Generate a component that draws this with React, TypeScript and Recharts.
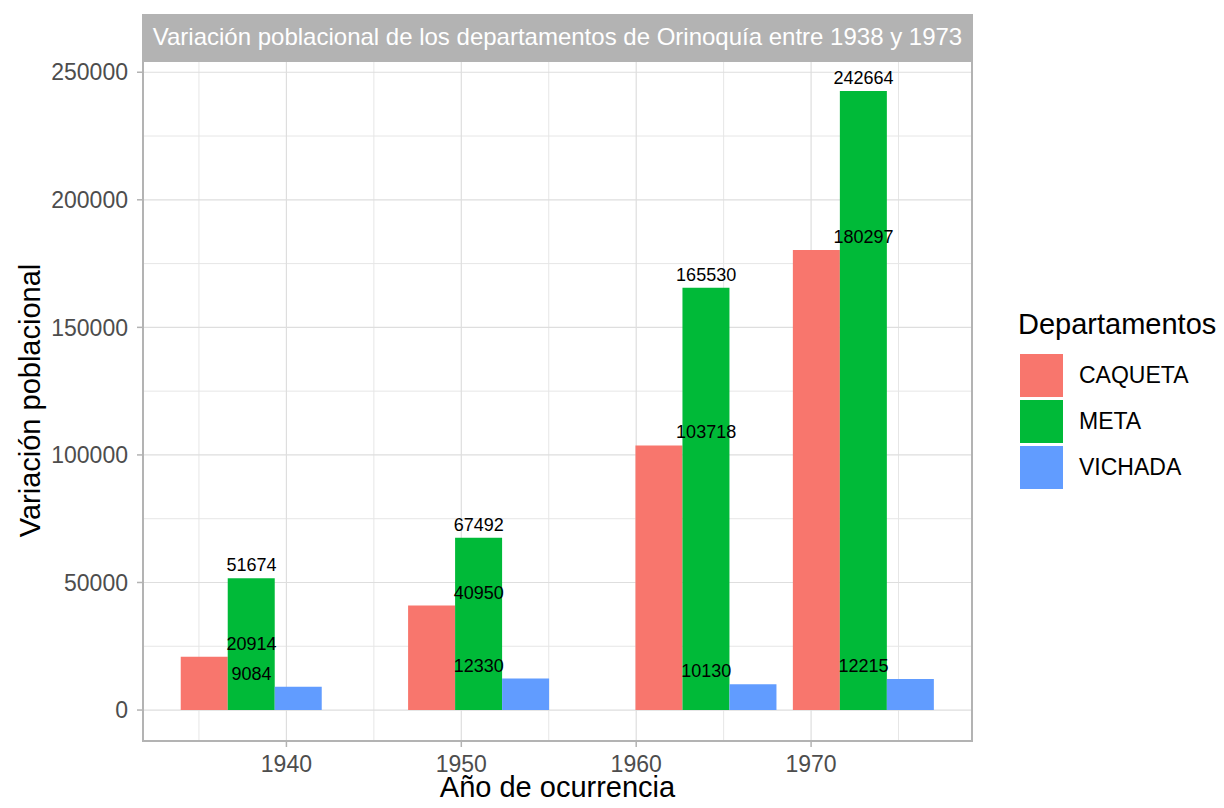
import React from 'react';
import { ComposedChart, Bar, Scatter, XAxis, YAxis, CartesianGrid } from 'recharts';

// valores
const years = [1938, 1951, 1964, 1973];
const caqueta = [20914, 40950, 103718, 180297];
const meta = [51674, 67492, 165530, 242664];
const vichada = [9084, 12330, 10130, 12215];

const xTicks = [1940, 1950, 1960, 1970];
const xMinor = [1935, 1945, 1955, 1965, 1975];
const yTicks = [0, 50000, 100000, 150000, 200000, 250000];
const yMinor = [25000, 75000, 125000, 175000, 225000];

const xDomain = [1931.8, 1979.2];
const yDomain = [-12133, 254797];

const series = [
  { key: 'CAQUETA', color: '#F8766D' },
  { key: 'META', color: '#00BA38' },
  { key: 'VICHADA', color: '#619CFF' },
];

const data = years.map((year, i) => ({
  year,
  CAQUETA: caqueta[i],
  META: meta[i],
  VICHADA: vichada[i],
}));

const FONT = '"Liberation Sans", Arial, Helvetica, sans-serif';
const W = 1224;
const H = 808;
const xAxisHeight = 67;
const yAxisWidth = 143;
const margin = { top: 60, right: 252, bottom: 0, left: 0 };
const panelLeft = margin.left + yAxisWidth;
const panelWidth = W - margin.right - panelLeft;
const panelHeight = H - margin.top - margin.bottom - xAxisHeight;

const labelShape = (key: string) => (p: any) => {
  if (p.cx == null || p.cy == null) return <g />;
  return (
    <text x={p.cx} y={p.cy - 7} textAnchor="middle" fontSize={18} fontFamily={FONT} fill="#000">
      {p.payload[key]}
    </text>
  );
};

const YTitle = (props: any) => {
  const vb = props.viewBox;
  const cx = 30;
  const cy = vb.y + vb.height / 2;
  return (
    <text
      x={cx}
      y={cy}
      transform={`rotate(-90, ${cx}, ${cy})`}
      textAnchor="middle"
      dominantBaseline="central"
      fontSize={29}
      fontFamily={FONT}
      fill="#000"
    >
      Variación poblacional
    </text>
  );
};

const XTitle = (props: any) => {
  const vb = props.viewBox;
  return (
    <text x={vb.x + vb.width / 2} y={vb.y + 56} textAnchor="middle" fontSize={29} fontFamily={FONT} fill="#000">
      Año de ocurrencia
    </text>
  );
};

export default function App() {
  return (
    <div style={{ position: 'absolute', left: 0, top: 0, width: W, height: H, background: '#fff', fontFamily: FONT }}>
      <ComposedChart width={W} height={H} data={data} margin={margin} barGap={0}>
        <CartesianGrid
          stroke="#E6E6E6"
          strokeWidth={1}
          horizontalValues={yMinor}
          verticalValues={xMinor}
        />
        <CartesianGrid stroke="#DEDEDE" strokeWidth={1.2} />
        <XAxis
          type="number"
          dataKey="year"
          domain={xDomain}
          ticks={xTicks}
          allowDataOverflow
          height={xAxisHeight}
          axisLine={false}
          tickSize={6}
          tickMargin={9}
          tickLine={{ stroke: '#B3B3B3', strokeWidth: 1.5 }}
          tick={{ fill: '#4D4D4D', fontSize: 23, fontFamily: FONT }}
          label={<XTitle />}
        />
        <YAxis
          type="number"
          domain={yDomain}
          ticks={yTicks}
          allowDataOverflow
          width={yAxisWidth}
          axisLine={false}
          tickSize={6}
          tickMargin={9}
          tickLine={{ stroke: '#B3B3B3', strokeWidth: 1.5 }}
          tick={{ fill: '#4D4D4D', fontSize: 23, fontFamily: FONT }}
          label={<YTitle />}
        />
        {series.map((s) => (
          <Bar key={s.key} dataKey={s.key} fill={s.color} barSize={47} isAnimationActive={false} />
        ))}
        {series.map((s) => (
          <Scatter key={`lbl-${s.key}`} dataKey={s.key} shape={labelShape(s.key)} isAnimationActive={false} />
        ))}
      </ComposedChart>

      {/* panel border */}
      <div
        style={{
          position: 'absolute',
          left: panelLeft - 1,
          top: margin.top,
          width: panelWidth + 2,
          height: panelHeight + 1,
          border: '2px solid #B3B3B3',
          boxSizing: 'border-box',
          pointerEvents: 'none',
        }}
      />
      {/* strip */}
      <div
        style={{
          position: 'absolute',
          left: panelLeft - 1,
          top: 14,
          width: panelWidth + 2,
          height: margin.top - 14,
          background: '#B3B3B3',
          color: '#fff',
          fontSize: 24,
          display: 'flex',
          alignItems: 'center',
          justifyContent: 'center',
          whiteSpace: 'nowrap',
        }}
      >
        Variación poblacional de los departamentos de Orinoquía entre 1938 y 1973
      </div>
      {/* leyenda */}
      <div style={{ position: 'absolute', left: 1018, top: 306 }}>
        <div style={{ fontSize: 29, color: '#000', lineHeight: '36px', marginBottom: 12 }}>Departamentos</div>
        {series.map((s) => (
          <div key={s.key} style={{ display: 'flex', alignItems: 'center', height: 43, marginBottom: 3, marginLeft: 2 }}>
            <div style={{ width: 43, height: 43, background: s.color }} />
            <div style={{ marginLeft: 16, fontSize: 23, color: '#000' }}>{s.key}</div>
          </div>
        ))}
      </div>
    </div>
  );
}
